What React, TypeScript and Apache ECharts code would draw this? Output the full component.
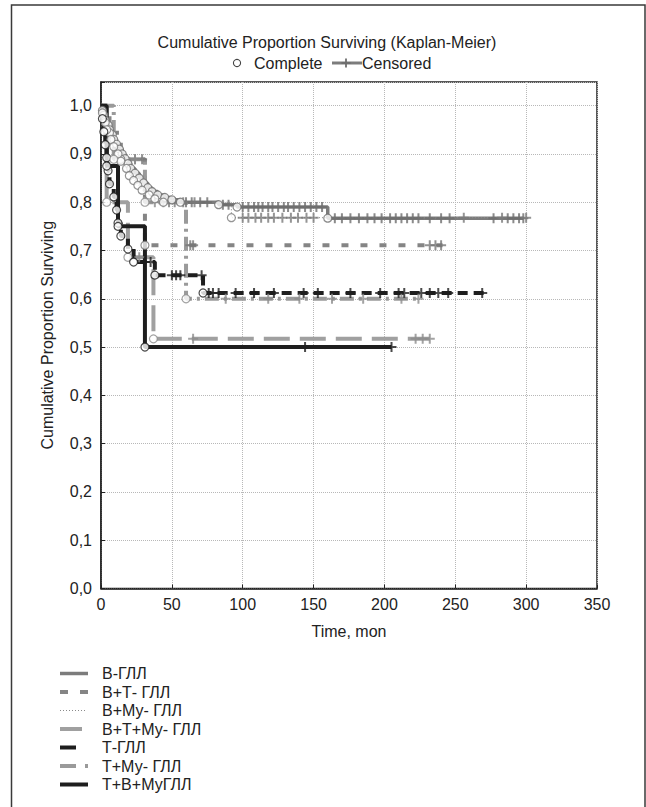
import React, { useEffect, useRef } from 'react';
import * as echarts from 'echarts';

const FONT = '"Liberation Sans", Arial, sans-serif';

const titleText = 'Cumulative Proportion Surviving (Kaplan-Meier)';
const xAxisName = 'Time, mon';
const yAxisName = 'Cumulative Proportion Surviving';
const seriesNames = ['В-ГЛЛ', 'В+Т- ГЛЛ', 'В+Му- ГЛЛ', 'В+Т+Му- ГЛЛ', 'Т-ГЛЛ', 'Т+Му- ГЛЛ', 'Т+В+МуГЛЛ'];

// Complete events [time, survival]
const eventsB = [[1,0.99],[2,0.98],[3,0.97],[5,0.96],[6,0.95],[8,0.94],[9,0.93],[11,0.92],[13,0.91],[15,0.9],[17,0.89],[19,0.88],[21,0.87],[24,0.86],[27,0.85],[30,0.84],[33,0.83],[36,0.822],[40,0.815],[45,0.81],[50,0.805],[56,0.8],[83,0.795],[96,0.79],[160,0.767]];
const endB = 298;
const censB = [[60,0.8],[64,0.8],[70,0.8],[75,0.8],[86,0.795],[90,0.795],[100,0.79],[104,0.79],[108,0.79],[111,0.79],[114,0.79],[118,0.79],[121,0.79],[125,0.79],[129,0.79],[132,0.79],[136,0.79],[140,0.79],[144,0.79],[148,0.79],[152,0.79],[156,0.79],[165,0.767],[170,0.767],[176,0.767],[182,0.767],[188,0.767],[193,0.767],[198,0.767],[204,0.767],[208,0.767],[212,0.767],[216,0.767],[220,0.767],[224,0.767],[232,0.767],[240,0.767],[246,0.767],[277,0.767],[287,0.767],[291,0.767],[295,0.767],[298,0.767]];

const eventsBT = [[6,0.944],[14,0.889],[31,0.711]];
const endBT = 241;
const censBT = [[24,0.889],[29,0.889],[63,0.711],[65,0.711],[232,0.711],[236,0.711],[240,0.711]];

const eventsBM = [[1,0.985],[3,0.965],[4,0.95],[7,0.93],[9,0.915],[12,0.9],[14,0.885],[18,0.87],[20,0.855],[23,0.845],[26,0.835],[29,0.825],[34,0.815],[38,0.807],[44,0.8],[92,0.768]];
const endBM = 300;
const censBM = [[48,0.8],[52,0.8],[58,0.8],[66,0.8],[100,0.768],[104,0.768],[109,0.768],[113,0.768],[118,0.768],[122,0.768],[128,0.768],[134,0.768],[139,0.768],[145,0.768],[150,0.768],[256,0.768],[283,0.768],[300,0.768]];

const eventsBTM = [[4,0.8],[19,0.686],[37,0.517]];
const endBTM = 232;
const censBTM = [[27,0.686],[65,0.517],[222,0.517],[227,0.517],[232,0.517]];

const eventsT = [[1,0.973],[2,0.946],[3,0.919],[4,0.892],[5,0.865],[6,0.838],[9,0.811],[11,0.784],[12,0.757],[14,0.73],[19,0.703],[23,0.676],[38,0.649],[72,0.612]];
const endT = 270;
const censT = [[31,0.676],[35,0.676],[50,0.649],[53,0.649],[56,0.649],[71,0.649],[76,0.612],[79,0.612],[83,0.612],[95,0.612],[108,0.612],[122,0.612],[143,0.612],[153,0.612],[176,0.612],[197,0.612],[210,0.612],[214,0.612],[226,0.612],[232,0.612],[238,0.612],[245,0.612],[269,0.612]];

const eventsTM = [[9,0.889],[31,0.8],[60,0.6]];
const endTM = 224;
const censTM = [[24,0.889],[38,0.8],[44,0.8],[88,0.6],[118,0.6],[140,0.6],[163,0.6],[185,0.6],[212,0.6],[224,0.6]];

const eventsTBM = [[4,0.875],[12,0.75],[31,0.5]];
const endTBM = 205;
const censTBM = [[144,0.5],[205,0.5]];

const curves = [
  { name: seriesNames[0], events: eventsB, end: endB, cens: censB, color: '#7c7c7c', mark: '#6e6e6e', width: 3.5, dash: 'solid' as any, legendDash: null as any, legendEnd: 88, z: 2 },
  { name: seriesNames[1], events: eventsBT, end: endBT, cens: censBT, color: '#858585', mark: '#777777', width: 4, dash: [7, 12], legendDash: [8, 12], legendEnd: 88, z: 3 },
  { name: seriesNames[2], events: eventsBM, end: endBM, cens: censBM, color: '#8a8a8a', mark: '#7a7a7a', width: 1, dash: [1, 2], legendDash: [1, 2], legendEnd: 85, z: 4 },
  { name: seriesNames[3], events: eventsBTM, end: endBTM, cens: censBTM, color: '#a0a0a0', mark: '#8c8c8c', width: 4, dash: [26, 10], legendDash: null, legendEnd: 82, z: 5 },
  { name: seriesNames[4], events: eventsT, end: endT, cens: censT, color: '#1e1e1e', mark: '#1e1e1e', width: 4, dash: [10, 6], legendDash: null, legendEnd: 76, z: 6 },
  { name: seriesNames[5], events: eventsTM, end: endTM, cens: censTM, color: '#9a9a9a', mark: '#8c8c8c', width: 4, dash: [14, 5, 3, 5], legendDash: [16, 9, 3, 10], legendEnd: 88, z: 7 },
  { name: seriesNames[6], events: eventsTBM, end: endTBM, cens: censTBM, color: '#1e1e1e', mark: '#1e1e1e', width: 4, dash: 'solid' as any, legendDash: null, legendEnd: 88, z: 8 },
];

const PLUS = 'path://M4,0H6V4H10V6H6V10H4V6H0V4H4Z';

export default function App() {
  const ref = useRef<HTMLDivElement>(null);
  useEffect(() => {
    if (!ref.current) return;
    const chart = echarts.init(ref.current, null, { renderer: 'svg' });
    const series: any[] = [];
    curves.forEach((c) => {
      const last = c.events[c.events.length - 1][1];
      const lineData = [[0, 1.0], ...c.events, [c.end, last]];
      series.push({
        type: 'line', name: c.name, data: lineData, step: 'end', showSymbol: false, silent: true, z: c.z,
        lineStyle: { color: c.color, width: c.width, type: c.dash, cap: 'butt' },
      });
    });
    curves.forEach((c) => {
      series.push({
        type: 'scatter', data: c.cens, symbol: PLUS, symbolSize: 10, silent: true, z: 10,
        itemStyle: { color: c.mark },
      });
    });
    curves.forEach((c) => {
      series.push({
        type: 'scatter', data: c.events, symbol: 'circle', symbolSize: 8, silent: true, z: 11,
        itemStyle: { color: '#ffffff', borderColor: c.mark, borderWidth: 1.2 },
      });
    });

    const legendRows = [673.5, 692, 710.5, 729, 747.5, 766, 784.5];
    const graphics: any[] = [
      { type: 'rect', shape: { x: 11.5, y: 5, width: 633.5, height: 820 }, style: { fill: 'none', stroke: '#3a3a3a', lineWidth: 1.5 }, silent: true },
      { type: 'text', x: 327, y: 42, style: { text: titleText, font: `16px ${FONT}`, fill: '#222', align: 'center', verticalAlign: 'middle', textAlign: 'center', textVerticalAlign: 'middle' } },
      { type: 'circle', shape: { cx: 237, cy: 63, r: 3.6 }, style: { fill: '#fff', stroke: '#444', lineWidth: 1.1 } },
      { type: 'text', x: 254, y: 63, style: { text: 'Complete', font: `16px ${FONT}`, fill: '#222', align: 'left', verticalAlign: 'middle', textAlign: 'left', textVerticalAlign: 'middle' } },
      { type: 'line', shape: { x1: 332, y1: 63, x2: 362, y2: 63 }, style: { stroke: '#7c7c7c', lineWidth: 3 } },
      { type: 'line', shape: { x1: 346, y1: 58.5, x2: 346, y2: 67.5 }, style: { stroke: '#6e6e6e', lineWidth: 1.8 } },
      { type: 'line', shape: { x1: 341.5, y1: 63, x2: 350.5, y2: 63 }, style: { stroke: '#6e6e6e', lineWidth: 1.8 } },
      { type: 'text', x: 362, y: 63, style: { text: 'Censored', font: `16px ${FONT}`, fill: '#222', align: 'left', verticalAlign: 'middle', textAlign: 'left', textVerticalAlign: 'middle' } },
    ];
    curves.forEach((c, i) => {
      const y = legendRows[i];
      graphics.push({
        type: 'line', shape: { x1: 60, y1: y, x2: c.legendEnd, y2: y },
        style: { stroke: c.color, lineWidth: c.width, lineDash: c.legendDash || undefined },
      });
      graphics.push({
        type: 'text', x: 102, y, style: { text: c.name, font: `16px ${FONT}`, fill: '#222', align: 'left', verticalAlign: 'middle', textAlign: 'left', textVerticalAlign: 'middle' },
      });
    });

    chart.setOption({
      animation: false,
      backgroundColor: '#ffffff',
      grid: { left: 101, top: 82, width: 496, height: 506.5, show: true, borderColor: '#222', borderWidth: 1.5, backgroundColor: 'transparent' },
      xAxis: {
        type: 'value', min: 0, max: 350, interval: 50,
        name: xAxisName, nameLocation: 'middle', nameGap: 35,
        nameTextStyle: { fontFamily: FONT, fontSize: 16, color: '#222' },
        axisLine: { show: true, onZero: false, lineStyle: { color: '#222', width: 1.5 } },
        axisTick: { show: true, inside: true, length: 4, lineStyle: { color: '#222' } },
        axisLabel: { fontFamily: FONT, fontSize: 16, color: '#222', margin: 8 },
        splitLine: { show: true, lineStyle: { type: 'dotted', color: '#b8b8b8', width: 1 } },
      },
      yAxis: {
        type: 'value', min: 0, max: 1.049, interval: 0.1,
        name: yAxisName, nameLocation: 'middle', nameGap: 46, nameRotate: 90,
        nameTextStyle: { fontFamily: FONT, fontSize: 16, color: '#222' },
        axisLine: { show: true, onZero: false, lineStyle: { color: '#222', width: 1.5 } },
        axisTick: { show: true, inside: true, length: 4, lineStyle: { color: '#222' } },
        axisLabel: {
          fontFamily: FONT, fontSize: 16, color: '#222', margin: 9,
          formatter: (v: number) => (v > 1.0001 ? '' : v.toFixed(1).replace('.', ',')),
        },
        splitLine: { show: true, lineStyle: { type: 'dotted', color: '#b8b8b8', width: 1 } },
      },
      graphic: graphics,
      series,
    });
    return () => chart.dispose();
  }, []);
  return <div ref={ref} style={{ position: 'fixed', left: 0, top: 0, width: 646, height: 807, background: '#fff' }} />;
}
